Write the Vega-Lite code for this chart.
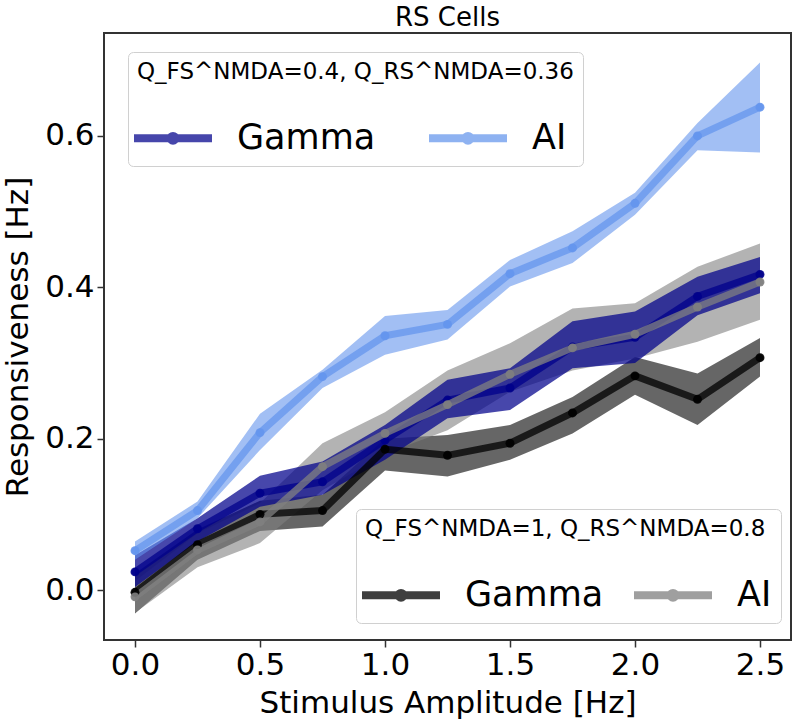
{
  "$schema": "https://vega.github.io/schema/vega-lite/v6.json",
  "width": 687,
  "height": 607,
  "autosize": {"type": "none"},
  "padding": {"left": 104, "top": 33, "right": 1, "bottom": 83},
  "background": "white",
  "title": {"text": "RS Cells", "font": "DejaVu Sans", "fontSize": 26, "fontWeight": "normal", "color": "black", "offset": 2},
  "config": {
    "view": {"stroke": "#333333", "strokeWidth": 2},
    "axis": {
      "grid": false, "domain": false,
      "labelFont": "DejaVu Sans", "labelFontSize": 31, "labelColor": "black", "labelPadding": 3,
      "titleFont": "DejaVu Sans", "titleFontSize": 31, "titleFontWeight": "normal", "titleColor": "black",
      "tickColor": "#333333", "tickSize": 7, "tickWidth": 1.5
    },
    "legend": {
      "titleLimit": 0, "labelLimit": 0
    }
  },
  "datasets": {
    "qa": [
      {"modeA": "Gamma", "x": 0, "y": 0.024, "lo": 0.004, "hi": 0.046},
      {"modeA": "Gamma", "x": 0.25, "y": 0.081, "lo": 0.064, "hi": 0.095},
      {"modeA": "Gamma", "x": 0.5, "y": 0.128, "lo": 0.110, "hi": 0.151},
      {"modeA": "Gamma", "x": 0.75, "y": 0.143, "lo": 0.126, "hi": 0.170},
      {"modeA": "Gamma", "x": 1.0, "y": 0.198, "lo": 0.172, "hi": 0.218},
      {"modeA": "Gamma", "x": 1.25, "y": 0.251, "lo": 0.227, "hi": 0.278},
      {"modeA": "Gamma", "x": 1.5, "y": 0.267, "lo": 0.238, "hi": 0.293},
      {"modeA": "Gamma", "x": 1.75, "y": 0.321, "lo": 0.293, "hi": 0.355},
      {"modeA": "Gamma", "x": 2.0, "y": 0.334, "lo": 0.300, "hi": 0.368},
      {"modeA": "Gamma", "x": 2.25, "y": 0.388, "lo": 0.363, "hi": 0.414},
      {"modeA": "Gamma", "x": 2.5, "y": 0.417, "lo": 0.392, "hi": 0.440},
      {"modeA": "AI", "x": 0, "y": 0.052, "lo": 0.040, "hi": 0.064},
      {"modeA": "AI", "x": 0.25, "y": 0.105, "lo": 0.095, "hi": 0.117},
      {"modeA": "AI", "x": 0.5, "y": 0.208, "lo": 0.185, "hi": 0.233},
      {"modeA": "AI", "x": 0.75, "y": 0.282, "lo": 0.267, "hi": 0.291},
      {"modeA": "AI", "x": 1.0, "y": 0.336, "lo": 0.311, "hi": 0.362},
      {"modeA": "AI", "x": 1.25, "y": 0.351, "lo": 0.331, "hi": 0.370},
      {"modeA": "AI", "x": 1.5, "y": 0.418, "lo": 0.401, "hi": 0.436},
      {"modeA": "AI", "x": 1.75, "y": 0.452, "lo": 0.432, "hi": 0.474},
      {"modeA": "AI", "x": 2.0, "y": 0.511, "lo": 0.496, "hi": 0.525},
      {"modeA": "AI", "x": 2.25, "y": 0.600, "lo": 0.581, "hi": 0.617},
      {"modeA": "AI", "x": 2.5, "y": 0.638, "lo": 0.578, "hi": 0.697}
    ],
    "qb": [
      {"modeB": "Gamma", "x": 0, "y": -0.003, "lo": -0.031, "hi": 0.022},
      {"modeB": "Gamma", "x": 0.25, "y": 0.060, "lo": 0.040, "hi": 0.080},
      {"modeB": "Gamma", "x": 0.5, "y": 0.100, "lo": 0.078, "hi": 0.118},
      {"modeB": "Gamma", "x": 0.75, "y": 0.105, "lo": 0.084, "hi": 0.126},
      {"modeB": "Gamma", "x": 1.0, "y": 0.186, "lo": 0.158, "hi": 0.200},
      {"modeB": "Gamma", "x": 1.25, "y": 0.178, "lo": 0.150, "hi": 0.205},
      {"modeB": "Gamma", "x": 1.5, "y": 0.194, "lo": 0.172, "hi": 0.218},
      {"modeB": "Gamma", "x": 1.75, "y": 0.234, "lo": 0.207, "hi": 0.255},
      {"modeB": "Gamma", "x": 2.0, "y": 0.283, "lo": 0.258, "hi": 0.308},
      {"modeB": "Gamma", "x": 2.25, "y": 0.252, "lo": 0.218, "hi": 0.286},
      {"modeB": "Gamma", "x": 2.5, "y": 0.307, "lo": 0.282, "hi": 0.333},
      {"modeB": "AI", "x": 0, "y": -0.009, "lo": -0.030, "hi": 0.012},
      {"modeB": "AI", "x": 0.25, "y": 0.053, "lo": 0.030, "hi": 0.075},
      {"modeB": "AI", "x": 0.5, "y": 0.090, "lo": 0.062, "hi": 0.115},
      {"modeB": "AI", "x": 0.75, "y": 0.163, "lo": 0.132, "hi": 0.194},
      {"modeB": "AI", "x": 1.0, "y": 0.207, "lo": 0.180, "hi": 0.235},
      {"modeB": "AI", "x": 1.25, "y": 0.245, "lo": 0.211, "hi": 0.290},
      {"modeB": "AI", "x": 1.5, "y": 0.285, "lo": 0.262, "hi": 0.326},
      {"modeB": "AI", "x": 1.75, "y": 0.320, "lo": 0.290, "hi": 0.372},
      {"modeB": "AI", "x": 2.0, "y": 0.338, "lo": 0.306, "hi": 0.379},
      {"modeB": "AI", "x": 2.25, "y": 0.374, "lo": 0.328, "hi": 0.427},
      {"modeB": "AI", "x": 2.5, "y": 0.407, "lo": 0.357, "hi": 0.458}
    ]
  },
  "encoding": {
    "x": {
      "field": "x", "type": "quantitative",
      "scale": {"domain": [-0.124, 2.624], "nice": false, "zero": false},
      "axis": {"values": [0, 0.5, 1, 1.5, 2, 2.5], "format": ".1f", "title": "Stimulus Amplitude  [Hz]", "titlePadding": 8}
    }
  },
  "layer": [
    {
      "data": {"name": "qb"},
      "mark": {"type": "area", "opacity": 0.6},
      "encoding": {
        "y": {
          "field": "lo", "type": "quantitative",
          "scale": {"domain": [-0.066, 0.736], "nice": false, "zero": false},
          "axis": {"values": [0, 0.2, 0.4, 0.6], "format": ".1f", "title": "Responsiveness [Hz]", "titlePadding": 10}
        },
        "y2": {"field": "hi"},
        "fill": {"field": "modeB", "type": "nominal", "sort": "descending", "scale": {"range": ["black", "gray"]}, "legend": null}
      }
    },
    {
      "data": {"name": "qa"},
      "mark": {"type": "area"},
      "encoding": {
        "y": {"field": "lo", "type": "quantitative", "axis": {"values": [0, 0.2, 0.4, 0.6], "format": ".1f", "title": "Responsiveness [Hz]", "titlePadding": 10}},
        "y2": {"field": "hi"},
        "color": {"field": "modeA", "type": "nominal", "sort": "descending", "scale": {"range": ["#00008b", "#6495ed"]}},
        "opacity": {"condition": {"test": "datum.modeA === 'Gamma'", "value": 0.72}, "value": 0.6}
      }
    },
    {
      "data": {"name": "qa"},
      "mark": {"type": "line", "strokeWidth": 7, "opacity": 0.75, "strokeJoin": "round", "strokeCap": "round"},
      "encoding": {
        "y": {"field": "y", "type": "quantitative", "axis": {"values": [0, 0.2, 0.4, 0.6], "format": ".1f", "title": "Responsiveness [Hz]", "titlePadding": 10}},
        "color": {"field": "modeA", "type": "nominal", "sort": "descending"}
      }
    },
    {
      "data": {"name": "qa"},
      "mark": {"type": "point", "filled": true, "size": 80, "opacity": 0.9},
      "encoding": {
        "y": {"field": "y", "type": "quantitative", "axis": {"values": [0, 0.2, 0.4, 0.6], "format": ".1f", "title": "Responsiveness [Hz]", "titlePadding": 10}},
        "color": {
          "field": "modeA", "type": "nominal", "sort": "descending",
          "legend": {
            "orient": "none", "legendX": 24, "legendY": 19,
            "direction": "horizontal", "columns": 2,
            "title": "Q_FS^NMDA=0.4, Q_RS^NMDA=0.36",
            "titleFont": "DejaVu Sans", "titleFontSize": 23, "titleFontWeight": "normal", "titleColor": "black", "titlePadding": 30,
            "labelFont": "DejaVu Sans", "labelFontSize": 35, "labelColor": "black",
            "symbolType": "M-1.35,0H2.55M0.72,0A0.12,0.12,0,1,1,0.48,0A0.12,0.12,0,1,1,0.72,0",
            "symbolSize": 1600, "symbolStrokeWidth": 8,
            "labelOffset": 52, "columnPadding": 37, "padding": 9,
            "fillColor": "white", "strokeColor": "#d0d0d0", "cornerRadius": 5,
            "encode": {"symbols": {"update": {
              "fill": {"scale": "color", "field": "value"},
              "stroke": {"scale": "color", "field": "value"},
              "strokeOpacity": {"value": 0.6}, "fillOpacity": {"value": 1}, "opacity": {"value": 1}
            }}}
          }
        }
      }
    },
    {
      "data": {"name": "qb"},
      "mark": {"type": "line", "strokeWidth": 7, "opacity": 0.75, "strokeJoin": "round", "strokeCap": "round"},
      "encoding": {
        "y": {"field": "y", "type": "quantitative", "axis": {"values": [0, 0.2, 0.4, 0.6], "format": ".1f", "title": "Responsiveness [Hz]", "titlePadding": 10}},
        "stroke": {
          "field": "modeB", "type": "nominal", "sort": "descending", "scale": {"range": ["black", "gray"]},
          "legend": {
            "orient": "none", "legendX": 252, "legendY": 476,
            "direction": "horizontal", "columns": 2,
            "title": "Q_FS^NMDA=1, Q_RS^NMDA=0.8",
            "titleFont": "DejaVu Sans", "titleFontSize": 23, "titleFontWeight": "normal", "titleColor": "black", "titlePadding": 30,
            "labelFont": "DejaVu Sans", "labelFontSize": 35, "labelColor": "black",
            "symbolType": "M-1.35,0H2.55M0.72,0A0.12,0.12,0,1,1,0.48,0A0.12,0.12,0,1,1,0.72,0",
            "symbolSize": 1600, "symbolStrokeWidth": 8,
            "labelOffset": 52, "columnPadding": 14, "padding": 9,
            "fillColor": "white", "strokeColor": "#d0d0d0", "cornerRadius": 5,
            "encode": {"symbols": {"update": {
              "fill": {"scale": "stroke", "field": "value"},
              "stroke": {"scale": "stroke", "field": "value"},
              "strokeOpacity": {"value": 0.6}, "fillOpacity": {"value": 1}, "opacity": {"value": 1}
            }}}
          }
        }
      }
    },
    {
      "data": {"name": "qb"},
      "mark": {"type": "point", "filled": true, "size": 80, "opacity": 0.9},
      "encoding": {
        "y": {"field": "y", "type": "quantitative", "axis": {"values": [0, 0.2, 0.4, 0.6], "format": ".1f", "title": "Responsiveness [Hz]", "titlePadding": 10}},
        "fill": {"field": "modeB", "type": "nominal", "sort": "descending", "legend": null}
      }
    }
  ]
}
